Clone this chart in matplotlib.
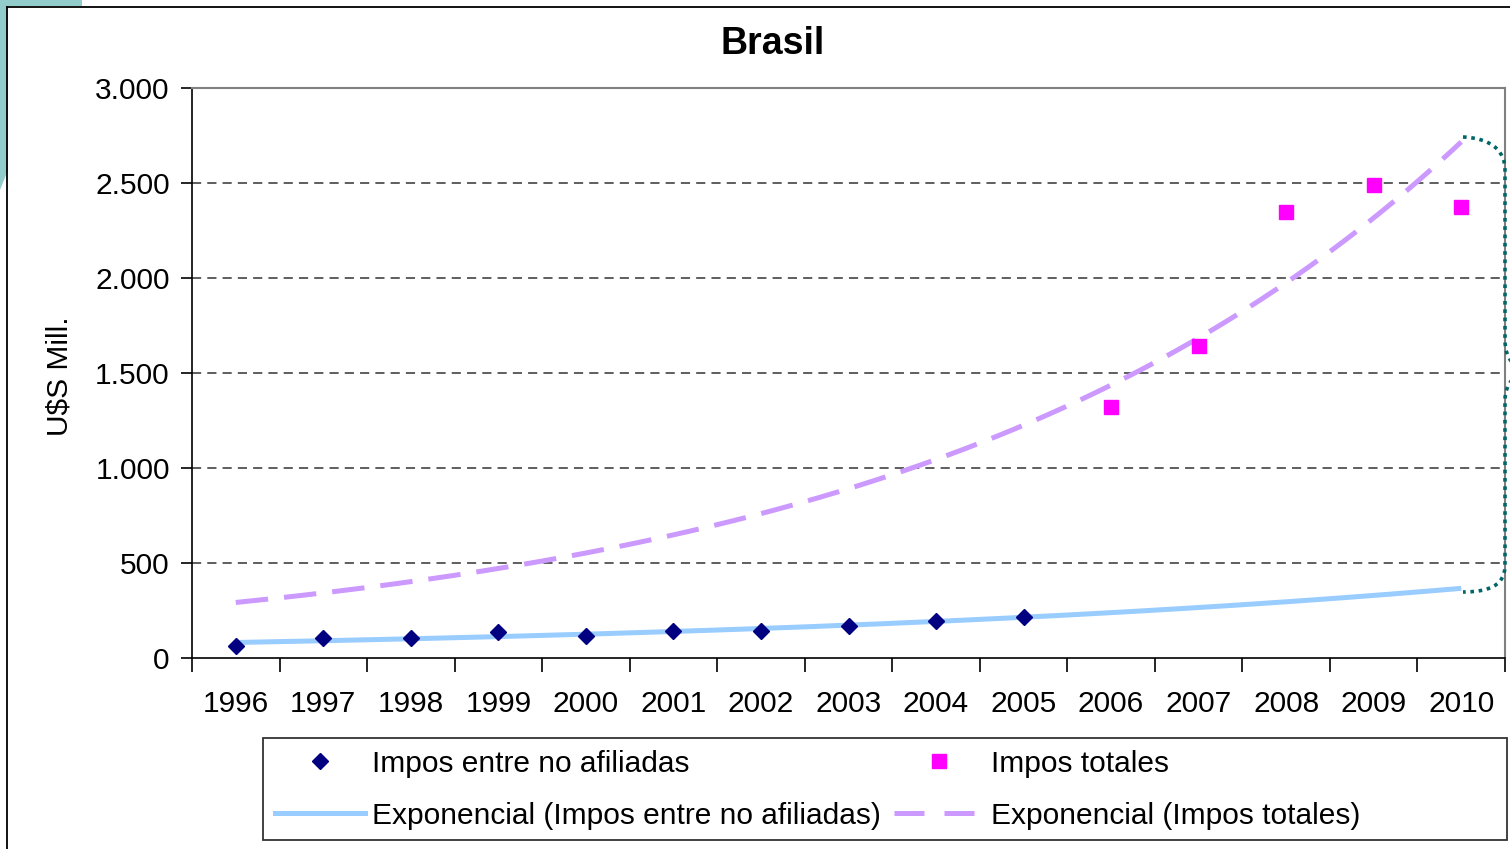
import numpy as np
import matplotlib
matplotlib.use('Agg')
import matplotlib.pyplot as plt
from matplotlib.path import Path
from matplotlib.patches import PathPatch, Rectangle, Polygon
from matplotlib.lines import Line2D
from matplotlib.ticker import FuncFormatter, FixedLocator

plt.rcParams['font.family'] = ['Liberation Sans', 'DejaVu Sans']

# data (U$S Mill.)
years = ['1996', '1997', '1998', '1999', '2000', '2001', '2002', '2003',
         '2004', '2005', '2006', '2007', '2008', '2009', '2010']
no_afiliadas_years = years[:10]
no_afiliadas = [65, 105, 105, 137, 118, 142, 142, 168, 193, 216]
totales_years = years[10:]
totales = [1320, 1640, 2350, 2490, 2375]

W, H = 1510, 849
fig = plt.figure(figsize=(W / 100, H / 100), dpi=100)
fig.patch.set_facecolor('white')


def fx(px):
    return px / W


def fy(py):
    return 1 - py / H


ax = fig.add_axes([fx(192), fy(658), fx(1505) - fx(192), fy(88) - fy(658)])

pos = {y: i + 1 for i, y in enumerate(years)}
x_na = np.array([pos[y] for y in no_afiliadas_years])
x_tot = np.array([pos[y] for y in totales_years])

# exponential trendlines (like excel), fitted on the log of each series
xx = np.linspace(1, len(years), 300)
b_na, a_na = np.polyfit(x_na, np.log(no_afiliadas), 1)
b_tot, a_tot = np.polyfit(x_tot, np.log(totales), 1)

ax.plot(xx, np.exp(a_na + b_na * xx), color='#99CCFF', lw=3.6, solid_capstyle='butt', zorder=3)
ax.plot(xx, np.exp(a_tot + b_tot * xx), color='#CC99FF', lw=3.6, dashes=(6.5, 3.2), zorder=3)

ax.plot(x_na, no_afiliadas, linestyle='none', marker='D', ms=8.5, color='#000080', zorder=4)
ax.plot(x_tot, totales, linestyle='none', marker='s', ms=10, color='#FF00FF', zorder=4)

# axes
ax.set_xlim(0.5, len(years) + 0.5)
ax.set_ylim(0, 3000)
ax.set_yticks(np.arange(0, 3001, 500))
ax.yaxis.set_major_formatter(FuncFormatter(lambda v, p: '{:,.0f}'.format(v).replace(',', '.')))
ax.set_xticks(np.arange(1, len(years) + 1))
ax.set_xticklabels(years)
ax.xaxis.set_minor_locator(FixedLocator(np.arange(0.5, len(years) + 1, 1)))
ax.tick_params(axis='x', which='major', length=0, pad=23, labelsize=21.5)
ax.tick_params(axis='x', which='minor', length=10, width=1.2, direction='out')
ax.tick_params(axis='y', length=8, width=1.2, direction='out', pad=8, labelsize=21.5)

for v in np.arange(500, 3000, 500):
    ax.axhline(v, color='#333333', lw=1.1, dashes=(6, 4), zorder=1)

for s in ['top', 'right']:
    ax.spines[s].set_color('#808080')
    ax.spines[s].set_linewidth(1.5)
for s in ['left', 'bottom']:
    ax.spines[s].set_color('black')
    ax.spines[s].set_linewidth(1.2)

fig.text(fx(773), fy(44), 'Brasil', ha='center', va='center', fontsize=27, fontweight='bold')
fig.text(fx(60), fy(376), 'U\\$S Mill.', ha='center', va='center', rotation=90, fontsize=21.5)

# legend (own frame drawn separately)
h_na = Line2D([], [], linestyle='none', marker='D', ms=8, color='#000080')
h_na_t = Line2D([], [], color='#99CCFF', lw=3.6)
h_tot = Line2D([], [], linestyle='none', marker='s', ms=10, color='#FF00FF')
h_tot_t = Line2D([], [], color='#CC99FF', lw=3.6, dashes=(6, 4))
fig.legend([h_na, h_na_t, h_tot, h_tot_t],
           ['Impos entre no afiliadas', 'Exponencial (Impos entre no afiliadas)',
            'Impos totales', 'Exponencial (Impos totales)'],
           ncol=2, frameon=False, loc='upper left', bbox_to_anchor=(fx(263), fy(738)),
           borderaxespad=0, borderpad=0.4, fontsize=21.5, handlelength=3.0,
           handletextpad=0.25, columnspacing=0.45, labelspacing=0.8)
fig.patches.append(Rectangle((fx(263), fy(840)), fx(1507) - fx(263), fy(738) - fy(840),
                             transform=fig.transFigure, fill=False, edgecolor='#333333', lw=1.3))

# slide decoration: teal corner, frame and dotted brace
fig.patches.append(Polygon([(fx(0), fy(0)), (fx(82), fy(0)), (fx(82), fy(6)), (fx(8), fy(6)),
                            (fx(8), fy(170)), (fx(0), fy(190))],
                           closed=True, transform=fig.transFigure, facecolor='#93CDCB', edgecolor='none'))
fig.lines.append(Line2D([fx(7), fx(1510)], [fy(7), fy(7)], transform=fig.transFigure, color='black', lw=1.3))
fig.lines.append(Line2D([fx(7), fx(7)], [fy(7), fy(849)], transform=fig.transFigure, color='black', lw=1.3))

pts = [(1463, 137), (1490, 138), (1505, 150), (1505, 170), (1505, 340), (1505, 355), (1512, 362),
       (1512, 380), (1505, 388), (1505, 400), (1505, 565), (1505, 585), (1490, 592), (1463, 592)]
codes = [Path.MOVETO, Path.CURVE4, Path.CURVE4, Path.CURVE4, Path.LINETO, Path.CURVE3, Path.CURVE3,
         Path.MOVETO, Path.CURVE3, Path.CURVE3, Path.LINETO, Path.CURVE4, Path.CURVE4, Path.CURVE4]
brace = Path([(fx(a), fy(b)) for a, b in pts], codes)
fig.patches.append(PathPatch(brace, transform=fig.transFigure, fill=False, edgecolor='#006666',
                             lw=2.6, linestyle=(0, (1, 1.3))))

fig.savefig('out.png', dpi=100)
